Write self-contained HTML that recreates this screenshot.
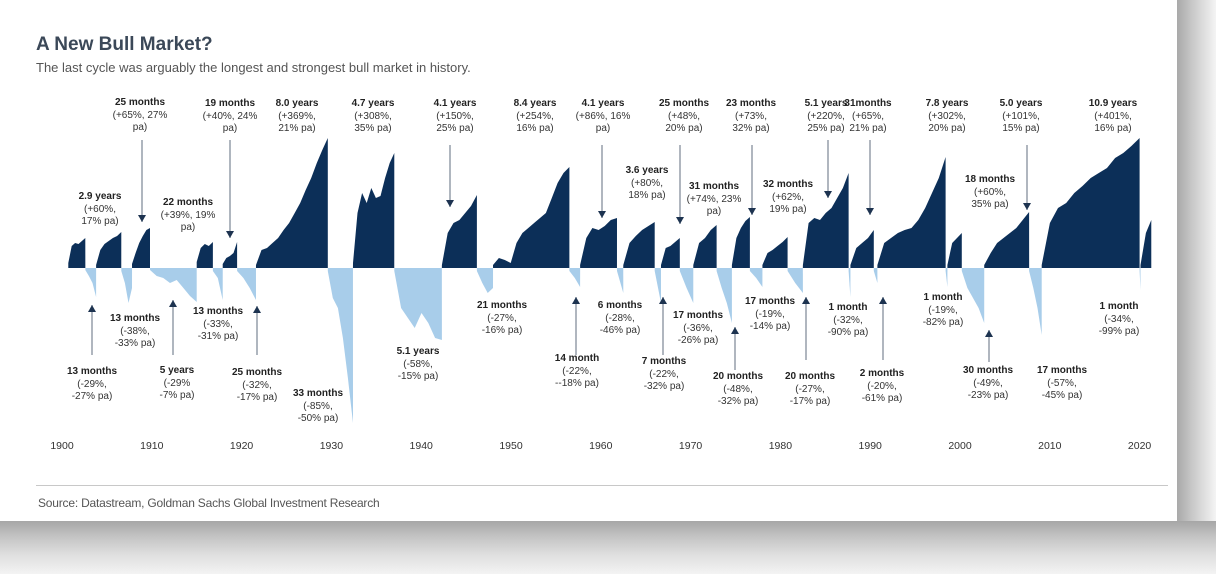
<!DOCTYPE html>
<html><head><meta charset="utf-8">
<style>
html,body{margin:0;padding:0;width:1216px;height:574px;overflow:hidden;background:#fff;font-family:"Liberation Sans",Arial,sans-serif;}
#bg-right{position:absolute;left:1177px;top:0;width:39px;height:574px;background:linear-gradient(to right,#a9a9a9,#c9c9c9 40%,#e6e6e6 80%,#f4f4f4);}
#bg-bottom{position:absolute;left:0;top:521px;width:1216px;height:53px;background:linear-gradient(to bottom,#a6a6a6,#c4c4c4 30%,#e0e0e0 65%,#f3f3f3);}
#card{position:absolute;left:25px;top:26px;width:1152px;height:495px;background:#fff;}
.title{position:absolute;left:11px;top:8px;font-size:19px;font-weight:bold;color:#3b4858;}
.sub{position:absolute;left:11px;top:34px;font-size:13px;color:#555;}
.src{position:absolute;left:13px;top:470px;font-size:12px;color:#555;letter-spacing:-0.2px;}
.sep{position:absolute;left:11px;top:459px;width:1132px;height:1px;background:#c8c8c8;}
.ann{position:absolute;font-size:10px;line-height:12.5px;color:#333;text-align:center;white-space:nowrap;transform:translateX(-50%);}
.ann b{color:#222;}
svg{position:absolute;left:0;top:0;}
</style></head>
<body>
<div id="bg-right"></div>
<div id="bg-bottom"></div>
<div id="card">
  <div class="title">A New Bull Market?</div>
  <div class="sub">The last cycle was arguably the longest and strongest bull market in history.</div>
  <div class="sep"></div>
  <div class="src">Source: Datastream, Goldman Sachs Global Investment Research</div>
</div>
<svg id="chart" width="1216" height="574"></svg>
<div id="anns"></div>
<script>
const bullStart=[1900.7,1903.8,1907.8,1915.0,1917.9,1921.6,1932.4,1942.3,1948.0,1957.7,1962.5,1966.7,1970.3,1974.6,1978.0,1982.5,1987.8,1990.8,1998.6,2002.7,2009.1,2020.1];
const bullEnd=[1902.6,1906.6,1909.8,1916.8,1919.5,1929.6,1937.0,1946.2,1956.5,1961.8,1966.0,1968.8,1972.9,1976.6,1980.8,1987.6,1990.4,1998.4,2000.2,2007.7,2020.0,2021.3];
const bullValues=[
[5,22,25,24,27,30],[3,18,24,27,30,32,36],[4,15,25,32,38,40],[6,20,24,22,26],[4,10,12,15,26],
[3,18,20,25,30,38,45,55,65,78,90,105,118,130],[5,55,75,65,80,70,72,90,105,115],[3,35,45,48,55,62,73],
[3,10,8,5,25,35,40,45,50,55,70,85,95,101],[3,30,40,38,42,48,50],[3,25,32,38,42,46],[3,20,22,26,30],
[3,25,30,38,43],[3,30,40,47,51],[3,15,18,22,26,31],[3,45,50,48,55,60,70,80,95],[3,20,25,30,38],
[3,25,30,35,38,40,48,60,75,90,111],[3,25,30,35],[3,15,25,30,35,40,48,56],
[3,45,60,65,75,82,90,95,100,110,115,122,130],[3,35,48]];
const bearStart=[1902.6,1906.6,1909.8,1916.8,1919.5,1929.6,1937.0,1946.2,1956.5,1961.8,1966.0,1968.8,1972.9,1976.6,1980.8,1987.6,1990.4,1998.4,2000.2,2007.7,2020.0];
const bearEnd=[1903.8,1907.8,1915.0,1917.9,1921.6,1932.4,1942.3,1948.0,1957.7,1962.5,1966.7,1970.3,1974.6,1978.0,1982.5,1987.8,1990.8,1998.6,2002.7,2009.1,2020.1];
const bearValues=[
[2,8,15,29],[3,15,35,20],[2,8,10,15,12,20,28,34],[3,10,32],[3,10,20,32],[3,30,40,70,110,155],
[3,40,50,60,45,55,70,72],[3,15,25,20],[3,10,19],[3,25],[3,35],[3,20,35],[3,20,35,55],[3,10,19],
[3,15,25],[3,29],[3,15],[3,19],[3,20,30,40,55],[3,20,40,67],[3,22]];
const tickYears=[1900,1910,1920,1930,1940,1950,1960,1970,1980,1990,2000,2010,2020];

const NS='http://www.w3.org/2000/svg';
const svg=document.getElementById('chart');
const X0=62,PXY=8.98,BASE=268;
function xs(yr){return X0+(yr-1900)*PXY;}
function ys(v){return BASE-v;}
function area(s,e,vals,sign){
  let d='M'+xs(s)+','+BASE;
  const n=vals.length;
  for(let i=0;i<n;i++){const yr=s+(e-s)*(n===1?1:i/(n-1));d+=' L'+xs(yr).toFixed(1)+','+(BASE-sign*vals[i]).toFixed(1);}
  d+=' L'+xs(e)+','+BASE+' Z';return d;
}
for(let i=0;i<bearStart.length;i++){
  const p=document.createElementNS(NS,'path');
  p.setAttribute('d',area(bearStart[i],bearEnd[i],bearValues[i],-1));
  p.setAttribute('fill','#a8cdea');
  
  
  svg.appendChild(p);
}
for(let i=0;i<bullStart.length;i++){
  const p=document.createElementNS(NS,'path');
  p.setAttribute('d',area(bullStart[i],bullEnd[i],bullValues[i],1));
  p.setAttribute('fill','#0c2f58');
  
  
  svg.appendChild(p);
}
for(const t of tickYears){
  const tx=document.createElementNS(NS,'text');
  tx.setAttribute('x',xs(t));tx.setAttribute('y',449);
  tx.setAttribute('text-anchor','middle');tx.setAttribute('font-size','10.5');tx.setAttribute('fill','#333');
  tx.setAttribute('font-family','Liberation Sans, sans-serif');
  tx.textContent=t;
  
  
  svg.appendChild(tx);
}
// arrows: x, y1 (tail), y2 (head)
const arrows=[[142,140,222],[230,140,238],[450,145,207],[602,145,218],[680,145,224],[752,145,215],[828,140,198],[870,140,215],[1027,145,210],
[92,355,305],[173,355,300],[257,355,306],[576,355,297],[663,355,297],[735,370,327],[806,360,297],[883,360,297],[989,362,330]];
for(const a of arrows){
  const l=document.createElementNS(NS,'line');
  l.setAttribute('x1',a[0]);l.setAttribute('x2',a[0]);l.setAttribute('y1',a[1]);l.setAttribute('y2',a[2]);
  l.setAttribute('stroke','#7a8594');l.setAttribute('stroke-width','1.2');
  
  
  svg.appendChild(l);
  const dir=a[2]>a[1]?1:-1;
  const t=document.createElementNS(NS,'path');
  t.setAttribute('d','M'+(a[0]-4)+','+(a[2]-dir*7)+' L'+(a[0]+4)+','+(a[2]-dir*7)+' L'+a[0]+','+a[2]+' Z');
  t.setAttribute('fill','#1d3350');
  
  
  svg.appendChild(t);
}
const anns=[
[140,97,'25 months','(+65%, 27%','pa)'],[100,191,'2.9 years','(+60%,','17% pa)'],[188,197,'22 months','(+39%, 19%','pa)'],
[230,98,'19 months','(+40%, 24%','pa)'],[297,98,'8.0 years','(+369%,','21% pa)'],[373,98,'4.7 years','(+308%,','35% pa)'],
[455,98,'4.1  years','(+150%,','25% pa)'],[535,98,'8.4 years','(+254%,','16% pa)'],[603,98,'4.1 years','(+86%, 16%','pa)'],
[647,165,'3.6 years','(+80%,','18% pa)'],[684,98,'25 months','(+48%,','20% pa)'],[714,181,'31 months','(+74%, 23%','pa)'],
[751,98,'23 months','(+73%,','32% pa)'],[788,179,'32 months','(+62%,','19% pa)'],[826,98,'5.1 years','(+220%,','25% pa)'],
[868,98,'31months','(+65%,','21% pa)'],[947,98,'7.8 years','(+302%,','20% pa)'],[990,174,'18 months','(+60%,','35% pa)'],
[1021,98,'5.0 years','(+101%,','15% pa)'],[1113,98,'10.9 years','(+401%,','16% pa)'],
[92,366,'13 months','(-29%,','-27% pa)'],[135,313,'13 months','(-38%,','-33% pa)'],[177,365,'5 years','(-29%','-7% pa)'],
[218,306,'13 months','(-33%,','-31% pa)'],[257,367,'25 months','(-32%,','-17% pa)'],[318,388,'33 months','(-85%,','-50% pa)'],
[418,346,'5.1 years','(-58%,','-15% pa)'],[502,300,'21 months','(-27%,','-16% pa)'],[577,353,'14 month','(-22%,','--18% pa)'],
[620,300,'6 months','(-28%,','-46% pa)'],[664,356,'7 months','(-22%,','-32% pa)'],[698,310,'17 months','(-36%,','-26% pa)'],
[738,371,'20 months','(-48%,','-32% pa)'],[770,296,'17 months','(-19%,','-14% pa)'],[810,371,'20 months','(-27%,','-17% pa)'],
[848,302,'1 month','(-32%,','-90% pa)'],[882,368,'2 months','(-20%,','-61% pa)'],[943,292,'1 month','(-19%,','-82% pa)'],
[988,365,'30 months','(-49%,','-23% pa)'],[1062,365,'17 months','(-57%,','-45% pa)'],[1119,301,'1 month','(-34%,','-99% pa)']];
const box=document.getElementById('anns');
for(const a of anns){
  const d=document.createElement('div');
  d.className='ann';
  d.style.left=a[0]+'px';d.style.top=a[1]+'px';
  d.innerHTML='<b>'+a[2]+'</b><br>'+a[3]+'<br>'+a[4];
  
  
  box.appendChild(d);
}
</script>
</body></html>
